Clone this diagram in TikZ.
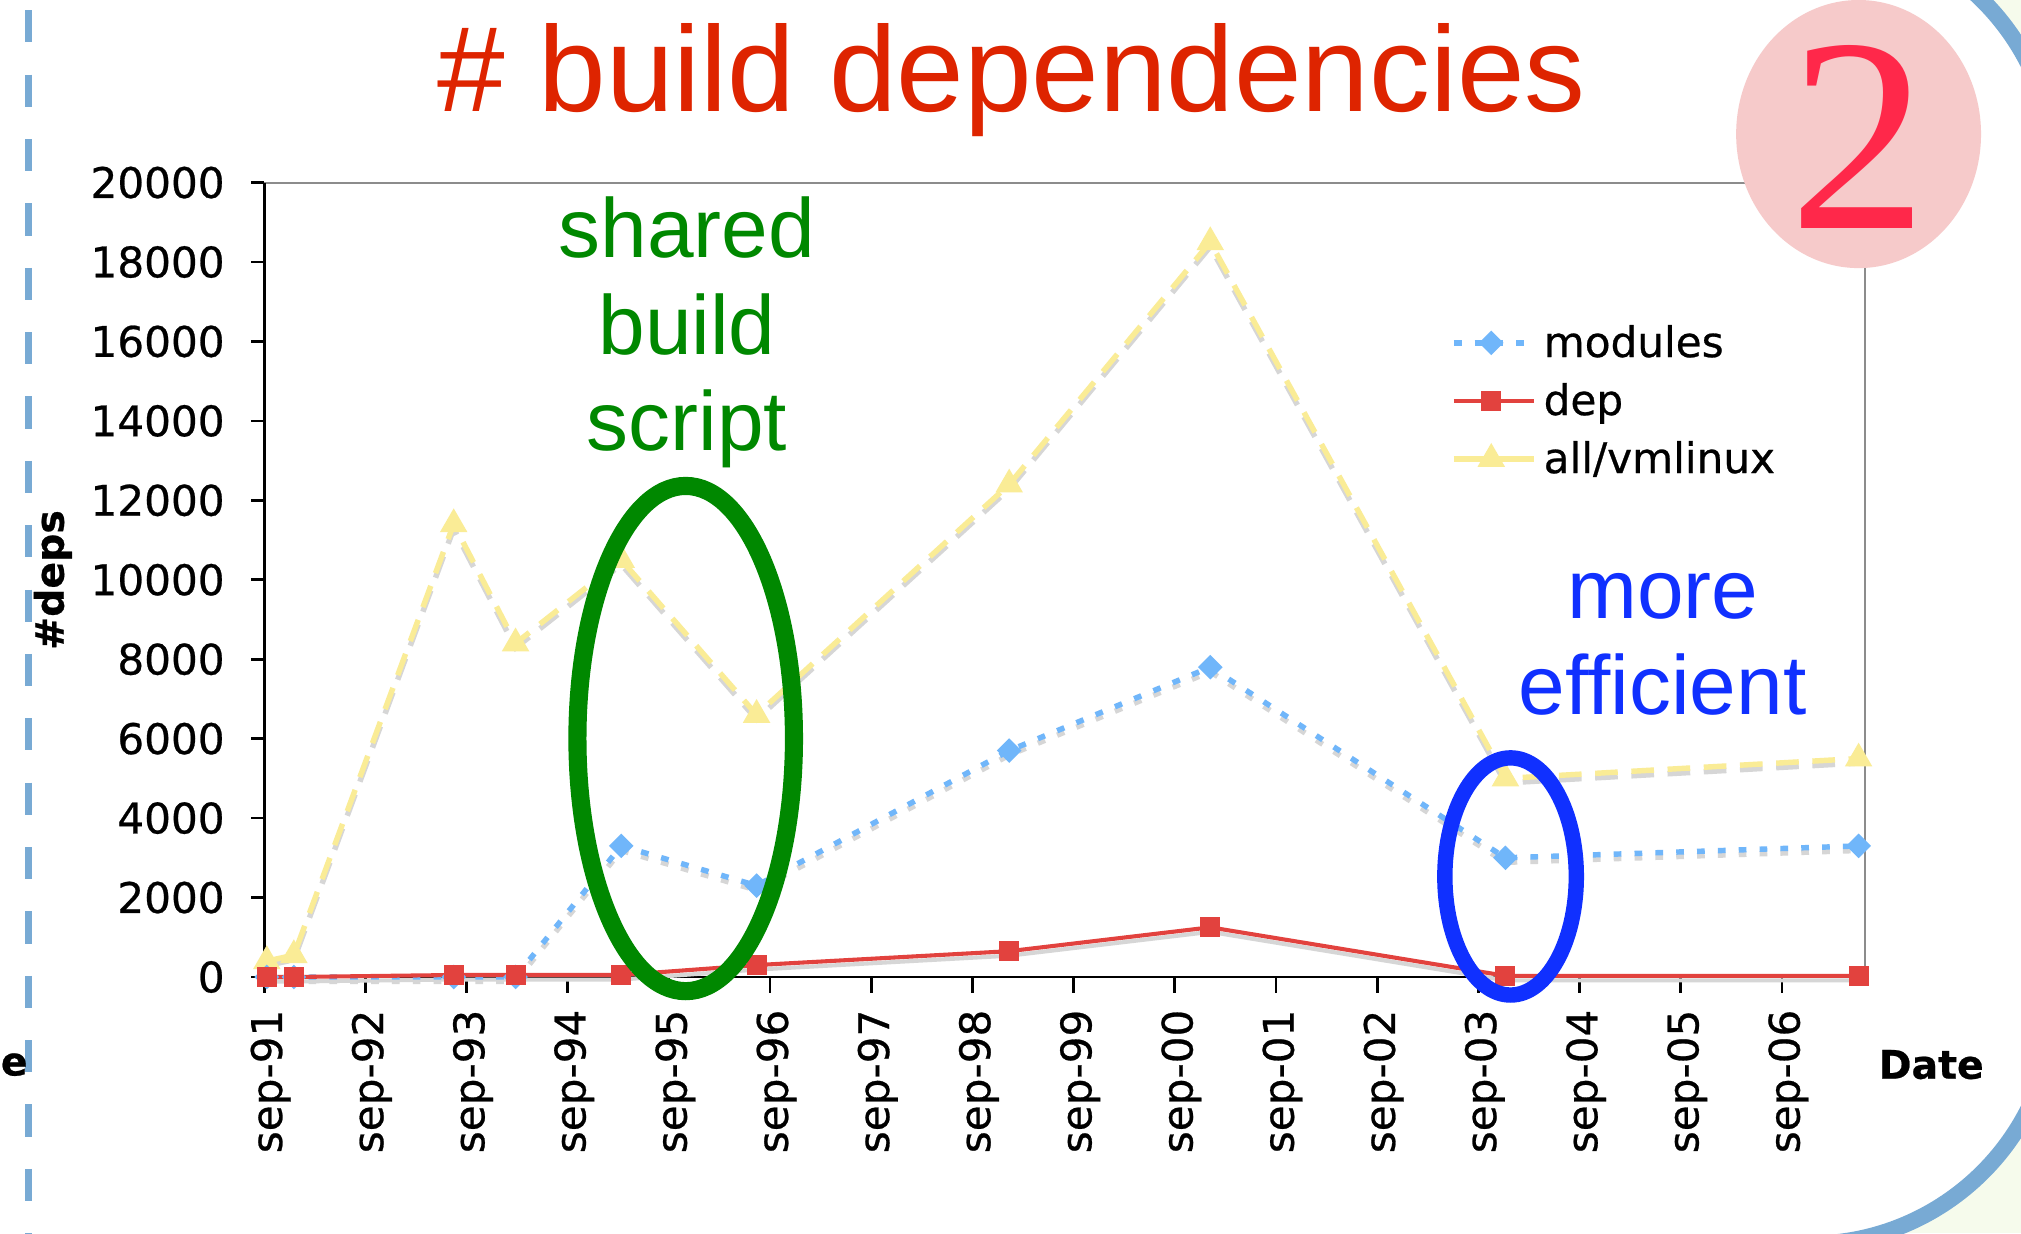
\documentclass[tikz,border=0pt]{standalone}
\usepackage{fontspec}
\setmainfont{Liberation Sans}
\newfontfamily\chartfont[FakeBold=0.6]{DejaVu Sans}
\newfontfamily\digitfont{Liberation Serif}
\usetikzlibrary{shapes.geometric}

\definecolor{titlered}{RGB}{222,36,0}
\definecolor{notegreen}{RGB}{0,136,0}
\definecolor{noteblue}{RGB}{16,48,255}
\definecolor{modblue}{RGB}{112,182,250}
\definecolor{depred}{RGB}{226,66,62}
\definecolor{allyellow}{RGB}{250,236,150}
\definecolor{framblue}{RGB}{120,170,212}
\definecolor{panelgreen}{RGB}{246,251,236}
\definecolor{badgepink}{RGB}{246,202,202}
\definecolor{badgered}{RGB}{255,40,74}

\tikzset{
  modline/.style={draw=modblue, line width=1.2pt, dash pattern=on 1.7pt off 2.9pt},
  depline/.style={draw=depred, line width=0.9pt},
  allline/.style={draw=allyellow, line width=1.2pt, dash pattern=on 5pt off 3pt},
  dropshadow/.style={draw=black!16},
  moddot/.style={diamond, fill=modblue, inner sep=0pt, minimum size=5.6pt},
  depdot/.style={rectangle, fill=depred, inner sep=0pt, minimum size=4.4pt},
  alldot/.style={regular polygon, regular polygon sides=3, fill=allyellow, inner sep=0pt, minimum size=7pt},
  ticklab/.style={font=\chartfont\fontsize{9.3}{11}\selectfont, inner sep=0pt},
  axlab/.style={font=\chartfont\bfseries\fontsize{8.7}{10}\selectfont, inner sep=0pt},
  note/.style={font=\fontsize{18.5}{21.3}\selectfont, align=center, inner sep=0pt},
}

\begin{document}
\begin{tikzpicture}[x=0.01cm, y=-0.01cm]
  \useasboundingbox (0,0) rectangle (1568,957);

  % panel and its frame
  \fill[panelgreen] (0,0) rectangle (1568,957);
  \draw[framblue, line width=3.6pt, fill=white, rounded corners=54pt] (-500,-55) rectangle (1594,965);
  \draw[framblue, line width=1.7pt, dash pattern=on 7.1pt off 7.1pt] (22,8) -- (22,960);
  \node[axlab, anchor=west] (cutlab) at (0,826) {e};

  % title
  \node[font=\fontsize{26.8}{32}\selectfont, text=titlered, inner sep=0pt] (title) at (785,62) {\# build dependencies};

  % axes
  \coordinate (O) at (205,758);
  \coordinate (xend) at (1447,758);
  \coordinate (ytop) at (205,142);
  \coordinate (corner) at (1447,142);
  \draw[black!45, line width=0.6pt] (ytop) -- (corner) -- (xend);
  \draw[line width=0.6pt] (ytop) -- (O) -- (xend);

  \begin{scope}[shift={(205,758)}, y=0.308cm]
    \foreach \k in {0,2,...,20} {
      \draw[line width=0.6pt] (-10,\k) -- (0,\k);
      \node[ticklab, anchor=east] (yl\k) at (-30,\k) {\ifnum\k=0 0\else\k000\fi};
    }
    \foreach \yr [count=\i from 0] in {91,92,93,94,95,96,97,98,99,00,01,02,03,04,05,06} {
      \draw[line width=0.6pt] (\i*78.5,0) -- (\i*78.5,-0.4);
      \node[ticklab, rotate=90, anchor=east] (xl\i) at (\i*78.5+5,-0.8) {sep-\yr};
    }

    % data points
    \foreach \x/\a/\m/\d [count=\i] in {2/0.4/0/0, 23/0.55/0/0, 147/11.4/0/0.05, 195/8.4/0/0.05,
        277/10.5/3.3/0.05, 382/6.6/2.3/0.3, 578/12.4/5.7/0.65, 734/18.5/7.8/1.25,
        963/5.0/3.0/0.03, 1237/5.5/3.3/0.03} {
      \coordinate (a\i) at (\x,\a);
      \coordinate (m\i) at (\x,\m);
      \coordinate (d\i) at (\x,\d);
    }
  \end{scope}

  % series, with their drop shadows
  \begin{scope}[transform canvas={yshift=-1pt}]
    \draw[allline, dropshadow] (a1) -- (a2) -- (a3) -- (a4) -- (a5) -- (a6) -- (a7) -- (a8) -- (a9) -- (a10);
    \draw[modline, dropshadow] (m1) -- (m2) -- (m3) -- (m4) -- (m5) -- (m6) -- (m7) -- (m8) -- (m9) -- (m10);
    \draw[depline, dropshadow] (d1) -- (d2) -- (d3) -- (d4) -- (d5) -- (d6) -- (d7) -- (d8) -- (d9) -- (d10);
  \end{scope}
  \draw[allline] (a1) -- (a2) -- (a3) -- (a4) -- (a5) -- (a6) -- (a7) -- (a8) -- (a9) -- (a10);
  \draw[modline] (m1) -- (m2) -- (m3) -- (m4) -- (m5) -- (m6) -- (m7) -- (m8) -- (m9) -- (m10);
  \draw[depline] (d1) -- (d2) -- (d3) -- (d4) -- (d5) -- (d6) -- (d7) -- (d8) -- (d9) -- (d10);
  \foreach \i in {1,...,10} {
    \node[alldot] (ak\i) at (a\i) {};
    \node[moddot] (mk\i) at (m\i) {};
  }
  \foreach \i in {1,...,10}
    \node[depdot] (dk\i) at (d\i) {};

  % axis titles
  \node[axlab, rotate=90] (ytitle) at (41,450) {\#deps};
  \node[axlab, anchor=west] (xtitle) at (1457,826) {Date};

  % legend
  \coordinate (lgm1) at (1128,266); \coordinate (lgm2) at (1190,266);
  \coordinate (lgd1) at (1128,311); \coordinate (lgd2) at (1190,311);
  \coordinate (lga1) at (1128,356); \coordinate (lga2) at (1190,356);
  \draw[modline] (lgm1) -- (lgm2);
  \draw[depline] (lgd1) -- (lgd2);
  \draw[allline, solid] (lga1) -- (lga2);
  \node[moddot] (lgmk) at (1157,266) {};
  \node[depdot] (lgdk) at (1157,311) {};
  \node[alldot] (lgak) at (1157,356) {};
  \node[ticklab, anchor=base west] (lgmt) at (1197,277) {modules};
  \node[ticklab, anchor=base west] (lgdt) at (1197,322) {dep};
  \node[ticklab, anchor=base west] (lgat) at (1197,367) {all/vmlinux};

  % annotations
  \node[note, text=notegreen] (shared) at (533,258) {shared\\build\\script};
  \draw[notegreen, line width=4pt] (532,573) ellipse[x radius=84, y radius=196];
  \node[note, text=noteblue] (effic) at (1290,500) {more\\efficient};
  \draw[noteblue, line width=3.4pt] (1172,680) ellipse[x radius=51, y radius=92];

  % badge
  \fill[badgepink] (1442,104) ellipse[x radius=95, y radius=104];
  \node[font=\digitfont\fontsize{61}{61}\selectfont, text=badgered, inner sep=0pt] (badge) at (1442,106) {2};
\end{tikzpicture}
\end{document}
